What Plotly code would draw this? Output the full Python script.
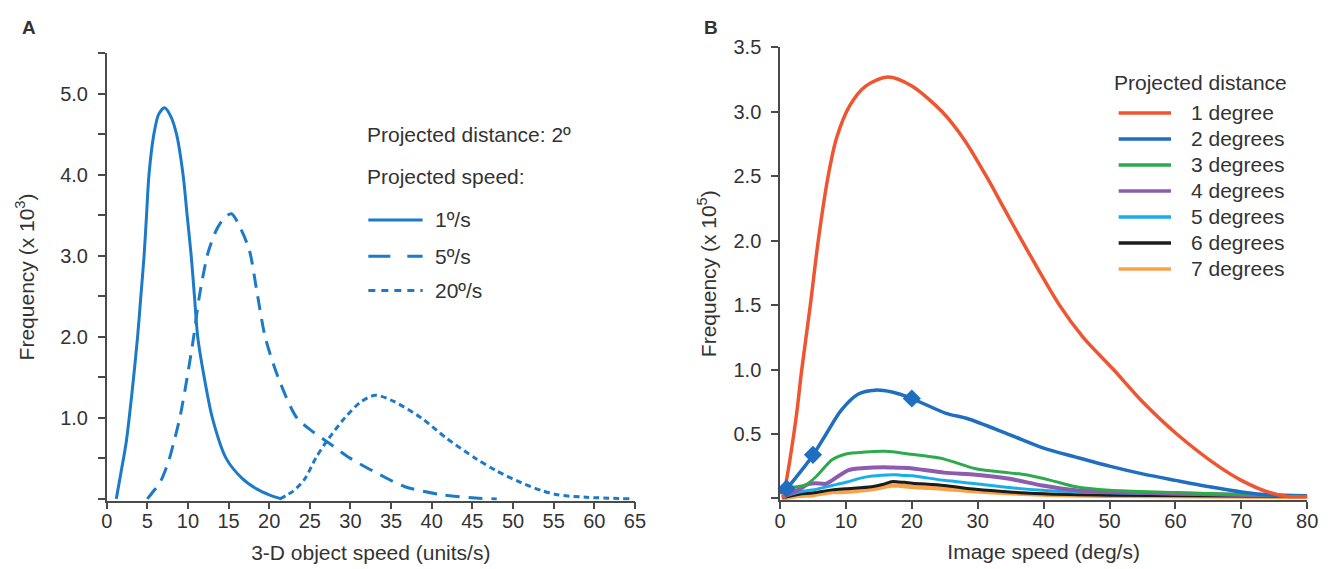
import plotly.graph_objects as go

# ---------------- Data: panel A ----------------
a_solid_x = [1.18, 1.8, 2.4, 3.1, 3.8, 4.2, 4.6, 4.9, 5.2, 5.8, 6.4, 7.13, 7.9, 8.6, 9.4, 9.9, 10.4, 10.8, 11.2, 12.0, 13.0, 14.7, 16.7, 18.5, 20.0, 21.5]
a_solid_y = [0, 0.35, 0.7, 1.3, 2.0, 2.5, 3.0, 3.5, 4.0, 4.5, 4.75, 4.83, 4.72, 4.5, 4.0, 3.5, 3.0, 2.5, 2.0, 1.5, 1.0, 0.5, 0.25, 0.12, 0.05, 0]

a_dash_x = [5.0, 5.8, 6.6, 7.65, 8.26, 9.0, 9.9, 10.7, 11.4, 12.5, 13.5, 14.4, 15.35, 16.56, 17.58, 18.5, 19.5, 21.1, 23.4, 25.5, 27.2, 30.0, 33.6, 36.7, 41.3, 45.4, 48.0]
a_dash_y = [0, 0.1, 0.21, 0.475, 0.7, 1.0, 1.5, 2.0, 2.5, 3.05, 3.32, 3.46, 3.52, 3.32, 3.06, 2.55, 2.0, 1.5, 1.0, 0.82, 0.7, 0.5, 0.3, 0.15, 0.05, 0.01, 0]

a_dot_x = [21.3, 23.0, 24.4, 25.7, 27.0, 29.3, 31.3, 33.1, 35.4, 38.7, 41.8, 45.4, 47.9, 51.0, 53.6, 55.5, 59.0, 64.5]
a_dot_y = [0, 0.1, 0.25, 0.5, 0.7, 1.0, 1.2, 1.28, 1.2, 1.0, 0.75, 0.5, 0.35, 0.2, 0.1, 0.05, 0.02, 0]

a_names = ["1º/s", "5º/s", "20º/s"]
a_xticks = list(range(0, 70, 5))
a_yticks = [1.0, 2.0, 3.0, 4.0, 5.0]
a_yticklabels = ["1.0", "2.0", "3.0", "4.0", "5.0"]

# ---------------- Data: panel B ----------------
b1_x = [0.5, 1.5, 2.5, 3.3, 4.6, 5.8, 7.3, 8.6, 10.6, 13.0, 16.4, 20.0, 24.6, 28.0, 31.3, 34.0, 36.7, 42.4, 46.0, 50.6, 55.0, 60.2, 66.5, 70.0, 74.0, 77.0, 80.0]
b1_y = [0, 0.3, 0.65, 1.0, 1.5, 2.0, 2.5, 2.8, 3.05, 3.2, 3.27, 3.2, 3.0, 2.78, 2.5, 2.25, 2.0, 1.5, 1.25, 1.0, 0.75, 0.5, 0.25, 0.14, 0.05, 0.015, 0.015]

b2_x = [0, 1.0, 3.0, 5.0, 7.0, 9.3, 11.9, 14.4, 17.0, 20.0, 25.2, 28.4, 34.8, 40.0, 44.9, 50.0, 55.0, 60.0, 65.2, 70.0, 74.8, 80.0]
b2_y = [0.04, 0.076, 0.2, 0.335, 0.5, 0.685, 0.81, 0.84, 0.825, 0.775, 0.66, 0.62, 0.495, 0.39, 0.32, 0.25, 0.19, 0.14, 0.09, 0.05, 0.025, 0.018]

b3_x = [0.3, 1.0, 2.5, 3.9, 5.5, 7.9, 10.0, 12.9, 16.0, 19.5, 24.9, 29.7, 34.8, 37.3, 41.1, 44.9, 50.0, 60.0, 70.0, 80.0]
b3_y = [0.05, 0.08, 0.09, 0.105, 0.17, 0.30, 0.345, 0.36, 0.365, 0.345, 0.305, 0.23, 0.198, 0.183, 0.14, 0.09, 0.063, 0.046, 0.03, 0.02]

b4_x = [0.3, 2.9, 4.3, 5.4, 6.9, 7.9, 10.4, 12.9, 15.7, 17.8, 19.5, 24.9, 29.7, 34.8, 39.8, 44.9, 50.0, 60.0, 80.0]
b4_y = [0.01, 0.07, 0.11, 0.118, 0.112, 0.14, 0.22, 0.236, 0.241, 0.238, 0.236, 0.2, 0.183, 0.152, 0.1, 0.063, 0.05, 0.038, 0.018]

b5_x = [0.3, 2.9, 4.9, 7.9, 10.0, 12.9, 15.4, 17.6, 18.9, 20.1, 24.9, 29.7, 34.8, 39.8, 44.9, 50.0, 80.0]
b5_y = [0.01, 0.05, 0.065, 0.1, 0.125, 0.165, 0.18, 0.183, 0.178, 0.175, 0.14, 0.114, 0.084, 0.063, 0.05, 0.043, 0.018]

b6_x = [0.3, 2.9, 4.9, 7.9, 10.0, 13.9, 15.7, 16.9, 18.0, 18.9, 20.1, 24.9, 29.7, 34.8, 39.8, 50.0, 80.0]
b6_y = [0.005, 0.033, 0.042, 0.066, 0.075, 0.09, 0.11, 0.13, 0.128, 0.125, 0.118, 0.1, 0.071, 0.05, 0.036, 0.025, 0.015]

b7_x = [0.3, 2.9, 4.9, 7.9, 9.3, 13.9, 16.9, 18.0, 20.1, 24.9, 29.7, 39.8, 50.0, 80.0]
b7_y = [0.0, 0.02, 0.025, 0.05, 0.05, 0.07, 0.1, 0.1, 0.09, 0.075, 0.055, 0.03, 0.02, 0.012]

b_marker_x = [1, 5, 20]
b_marker_y = [0.076, 0.338, 0.775]

b_names = ["1 degree", "2 degrees", "3 degrees", "4 degrees", "5 degrees", "6 degrees", "7 degrees"]
b_colors = ["#EF5530", "#1F6EC0", "#2DAA4C", "#8D5CAE", "#17AEEA", "#1C1C1C", "#F8A34C"]
b_widths = [3.5, 3.5, 3, 4, 3, 3, 4.5]
b_xticks = list(range(0, 90, 10))
b_yticks = [0.5, 1.0, 1.5, 2.0, 2.5, 3.0, 3.5]
b_yticklabels = ["0.5", "1.0", "1.5", "2.0", "2.5", "3.0", "3.5"]

a_xtitle = "3-D object speed (units/s)"
a_ytitle = "Frequency (x 10<sup>3</sup>)"
b_xtitle = "Image speed (deg/s)"
b_ytitle = "Frequency (x 10<sup>5</sup>)"

# ---------------- Layout geometry ----------------
W, H = 1336, 569
FONT = "Liberation Sans, Arial, Helvetica, sans-serif"
TXT = "#333333"
AX = "#4a4a4a"
A_BLUE = "#1C7BC8"


def px(x):
    return x / W


def py(y):
    return 1 - y / H


# panel A: x 0..65 -> 102..637 px, y 0 at 497.5, 82.6 px / unit
a_ppu = 82.6
a_yr = [-0.02, 5.5]
a_dom_y = [py(497.5 - a_yr[0] * a_ppu), py(497.5 - a_yr[1] * a_ppu)]
# panel B: x 0..80 -> 784..1318 px, y 0 at 497, 131.4 px / unit
b_ppu = 131.4
b_yr = [-0.012, 3.5]
b_dom_y = [py(497 - b_yr[0] * b_ppu), py(497 - b_yr[1] * b_ppu)]

fig = go.Figure()

# panel A traces
a_series = [(a_solid_x, a_solid_y, "solid"), (a_dash_x, a_dash_y, "14px,9px"), (a_dot_x, a_dot_y, "6px,4px")]
for (xs, ys, dash), name in zip(a_series, a_names):
    fig.add_trace(go.Scatter(x=xs, y=ys, mode="lines", name=name, showlegend=False,
                             line=dict(color=A_BLUE, width=3, dash=dash, shape="spline", smoothing=0.8),
                             xaxis="x", yaxis="y"))

# panel B traces (draw 7 -> 3 first, then 2 and 1 on top)
b_series = [(b1_x, b1_y), (b2_x, b2_y), (b3_x, b3_y), (b4_x, b4_y), (b5_x, b5_y), (b6_x, b6_y), (b7_x, b7_y)]
for i in [6, 5, 4, 3, 2, 1, 0]:
    xs, ys = b_series[i]
    fig.add_trace(go.Scatter(x=xs, y=ys, mode="lines", name=b_names[i], showlegend=False,
                             line=dict(color=b_colors[i], width=b_widths[i], shape="spline", smoothing=0.8),
                             xaxis="x2", yaxis="y2"))
fig.add_trace(go.Scatter(x=b_marker_x, y=b_marker_y, mode="markers", showlegend=False,
                         marker=dict(symbol="diamond", size=14, color=b_colors[1]),
                         xaxis="x2", yaxis="y2", cliponaxis=False))

title_font = dict(family=FONT, size=21, color=TXT)
axis_common = dict(showline=True, linecolor=AX, linewidth=1.5, ticks="outside", ticklen=7,
                   tickcolor=AX, tickwidth=1.5, showgrid=False, zeroline=False,
                   tickfont=dict(family=FONT, size=20, color=TXT), fixedrange=True)
minor_y = dict(tick0=0, dtick=0.5, ticks="outside", ticklen=7, tickcolor=AX, tickwidth=1.5, showgrid=False)

fig.update_layout(
    width=W, height=H, margin=dict(l=0, r=0, t=0, b=0),
    paper_bgcolor="white", plot_bgcolor="white",
    xaxis=dict(domain=[px(102), px(637)], range=[0, 65], tickvals=a_xticks,
               anchor="y", ticklabelstandoff=-5,
               title=dict(text=a_xtitle, font=title_font, standoff=14), **axis_common),
    yaxis=dict(domain=a_dom_y, range=a_yr, tickvals=a_yticks, ticktext=a_yticklabels,
               anchor="x", ticklabelstandoff=6, minor=minor_y,
               title=dict(text=a_ytitle, font=title_font, standoff=20), **axis_common),
    xaxis2=dict(domain=[px(784), px(1318)], range=[0, 80], tickvals=b_xticks,
                anchor="y2", ticklabelstandoff=-5,
                title=dict(text=b_xtitle, font=title_font, standoff=14), **axis_common),
    yaxis2=dict(domain=b_dom_y, range=b_yr, tickvals=b_yticks, ticktext=b_yticklabels,
                anchor="x2", ticklabelstandoff=6, minor=minor_y,
                title=dict(text=b_ytitle, font=title_font, standoff=11), **axis_common),
    showlegend=False,
)

annotations = []
shapes = []


def text(x, y, s, size=21, bold=False, angle=0, xanchor="left"):
    annotations.append(dict(x=px(x), y=py(y), xref="paper", yref="paper", text=(f"<b>{s}</b>" if bold else s),
                            showarrow=False, xanchor=xanchor, yanchor="middle", textangle=angle,
                            font=dict(family=FONT, size=size, color=TXT)))


# panel letters
text(14, 17, "A", size=19, bold=True)
text(705, 17, "B", size=19, bold=True)

# panel A legend
text(364, 126, "Projected distance: 2º")
text(364, 169, "Projected speed:")
a_leg_y = [213, 250, 285]
a_leg_dash = ["solid", "22px,17px", "7px,6px"]
for yy, dsh, nm in zip(a_leg_y, a_leg_dash, a_names):
    shapes.append(dict(type="line", xref="paper", yref="paper", x0=px(367), x1=px(422), y0=py(yy), y1=py(yy),
                       line=dict(color=A_BLUE, width=3, dash=dsh)))
    text(432, yy, nm)

# panel B legend
text(1120, 73, "Projected distance")
for i, nm in enumerate(b_names):
    yy = 104 + i * 26.5
    shapes.append(dict(type="line", xref="paper", yref="paper", x0=px(1127), x1=px(1180), y0=py(yy), y1=py(yy),
                       line=dict(color=b_colors[i], width=3.5)))
    text(1198, yy, nm)

fig.update_layout(annotations=annotations, shapes=shapes)
fig.write_html("out.html")
